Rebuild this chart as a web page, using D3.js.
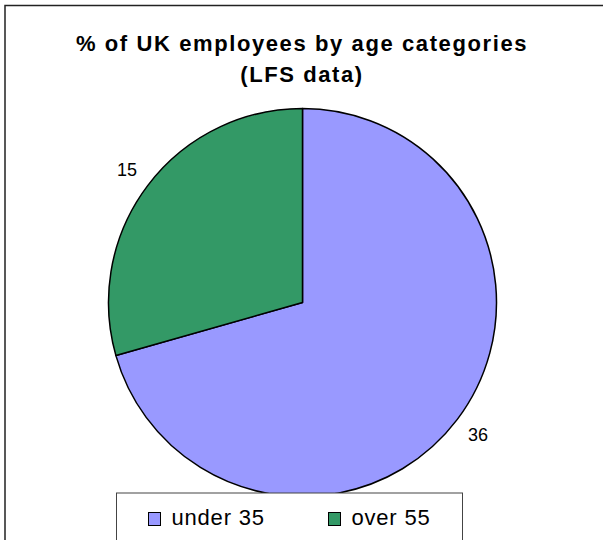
<!DOCTYPE html>
<html>
<head>
<meta charset="utf-8">
<script src="https://cdn.jsdelivr.net/npm/d3@7"></script>
<style>
  html, body { margin: 0; padding: 0; background: #fff; }
  svg { display: block; }
  text { font-family: "Liberation Sans", Arial, sans-serif; fill: #000; }
</style>
</head>
<body>
<svg id="chart" width="603" height="540"></svg>
<script>
// Share of UK employees by age band (LFS)
const categories = ["under 35", "over 55"];
const values = [36, 15];
const colors = ["#9999FF", "#339966"];
const titleLines = ["% of UK employees by age categories", "(LFS data)"];

const svg = d3.select("#chart");

// outer chart frame (left and top edges visible)
svg.append("path")
  .attr("d", "M5,540 V5.5 H603")
  .attr("fill", "none")
  .attr("stroke", "#222")
  .attr("stroke-width", 1.5);

// title
svg.append("g").selectAll("text")
  .data(titleLines)
  .join("text")
  .attr("x", 302)
  .attr("y", (d, i) => 51 + i * 31)
  .attr("text-anchor", "middle")
  .attr("font-size", 22)
  .attr("font-weight", "bold")
  .attr("letter-spacing", 1.6)
  .text(d => d);

// pie
const cx = 302.5, cy = 302.5, r = 194;
const pie = d3.pie().sort(null).value(d => d)(values);
const arc = d3.arc().innerRadius(0).outerRadius(r);
const color = d3.scaleOrdinal().domain(categories).range(colors);

const g = svg.append("g").attr("transform", `translate(${cx},${cy})`);
g.selectAll("path")
  .data(pie)
  .join("path")
  .attr("d", arc)
  .attr("fill", (d, i) => color(categories[i]))
  .attr("stroke", "#000")
  .attr("stroke-width", 1.5)
  .attr("stroke-linejoin", "round");

// value labels just outside each slice
const labelArc = d3.arc().innerRadius(r + 26).outerRadius(r + 26);
g.selectAll("text.val")
  .data(pie)
  .join("text")
  .attr("class", "val")
  .attr("transform", d => {
    const [x, y] = labelArc.centroid(d);
    return `translate(${x},${y})`;
  })
  .attr("text-anchor", "middle")
  .attr("dy", "0.35em")
  .attr("font-size", 18)
  .text(d => d.data);

// legend
const legend = svg.append("g");
legend.append("rect")
  .attr("x", 116.5).attr("y", 493)
  .attr("width", 346).attr("height", 60)
  .attr("fill", "#fff")
  .attr("stroke", "#444")
  .attr("stroke-width", 1);

const itemX = [148.5, 328.5];
const items = legend.selectAll("g.item")
  .data(categories)
  .join("g")
  .attr("class", "item")
  .attr("transform", (d, i) => `translate(${itemX[i]},512.5)`);
items.append("rect")
  .attr("width", 12).attr("height", 13)
  .attr("fill", d => color(d))
  .attr("stroke", "#000")
  .attr("stroke-width", 1);
items.append("text")
  .attr("x", 23).attr("y", 12.5)
  .attr("font-size", 22)
  .attr("letter-spacing", 0.8)
  .text(d => d);
</script>
</body>
</html>
